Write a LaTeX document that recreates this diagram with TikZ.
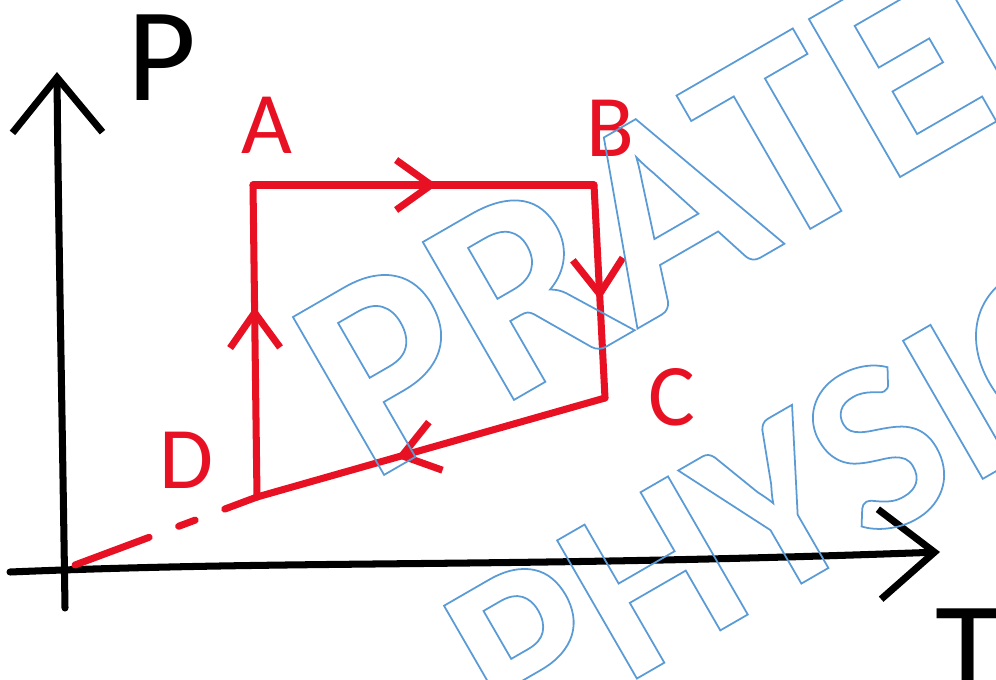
\documentclass[tikz,border=0pt]{standalone}
\usepackage{fontspec}
\setmainfont{Carlito}
\usepackage{xcolor}
\usetikzlibrary{arrows.meta,decorations.markings}
\definecolor{penred}{RGB}{232,17,35}
\definecolor{wmblue}{RGB}{91,155,213}
% outline (stroked) text for the watermark
\newcommand\outlinetext[1]{\special{pdf:code q 1 Tr 1 w}#1\special{pdf:code Q}}
\tikzset{
  axisline/.style={line width=4pt, line cap=round, -{Straight Barb[length=1.1cm,width=1.8cm]}},
  cycleline/.style={penred, line width=4pt, line cap=round},
  midarrow/.style={postaction={decorate}, decoration={markings,
      mark=at position #1 with {\arrow[penred]{Straight Barb[length=0.7cm,width=1cm]}}}},
  lbl/.style={penred, font=\fontsize{50}{50}\selectfont},
  wmark/.style={rotate=30, text=wmblue, font=\fontsize{#1}{#1}\selectfont\bfseries},
}

\begin{document}
\begin{tikzpicture}[x=0.02cm, y=-0.02cm]
    \useasboundingbox (0,0) rectangle (996,679);
    \clip (0,0) rectangle (996,679);

    % axes
    \coordinate (O) at (75,565);
    \coordinate (xs) at (10,572);
    \coordinate (xe) at (940,552);
    \coordinate (ys) at (65,608);
    \coordinate (ye) at (57,72);
    \draw[axisline] (xs) .. controls (300,560) and (500,568) .. (xe);
    \draw[axisline] (ys) .. controls (62,400) and (58,200) .. (ye);
    \node[font=\fontsize{76}{76}\selectfont] (lP) at (162,58) {P};
    \node[font=\fontsize{76}{76}\selectfont] (lT) at (968,652) {T};

    % cycle A-B-C-D
    \coordinate (A) at (253,185);
    \coordinate (B) at (594,185);
    \coordinate (C) at (605,398);
    \coordinate (D) at (257,497);
    \draw[cycleline, midarrow=0.54] (A) -- (B);
    \draw[cycleline, midarrow=0.54] (B) -- (C);
    \draw[cycleline, midarrow=0.6] (C) -- (D);
    \draw[cycleline, midarrow=0.61] (D) -- (A);
    \draw[cycleline, dash pattern=on 45pt off 18pt on 10pt off 18pt on 40pt] (O) -- (D);

    \node[lbl] (la) at (267,125) {A};
    \node[lbl] (lb) at (610,128) {B};
    \node[lbl] (lc) at (672,397) {C};
    \node[lbl] (ld) at (187,460) {D};

    % watermark
    \node[wmark=160] (wm1) at (768,148) {\outlinetext{PRATEEK}};
    \node[wmark=140] (wm2) at (835,472) {\outlinetext{PHYSICS}};
\end{tikzpicture}
\end{document}
